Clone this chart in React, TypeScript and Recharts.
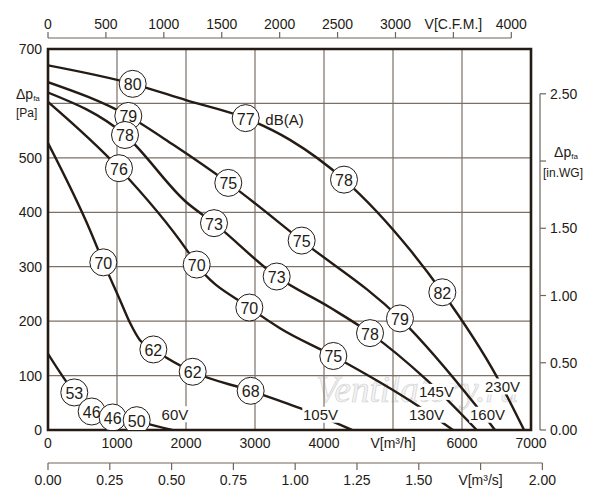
import {
  ComposedChart, Line, Scatter, XAxis, YAxis, CartesianGrid, ReferenceArea,
} from 'recharts';

// air flow V [m³/h] vs. static pressure Δp_fa [Pa], one curve per supply voltage
const curve230 = [
  { q: 0, p: 670 }, { q: 1227, p: 636 }, { q: 2000, p: 606 }, { q: 2865, p: 573 },
  { q: 3507, p: 533 }, { q: 4290, p: 460 }, { q: 5246, p: 331 }, { q: 5715, p: 253 },
  { q: 6503, p: 98 }, { q: 6900, p: 0 },
];
const curve160 = [
  { q: 0, p: 639 }, { q: 1164, p: 577 }, { q: 1816, p: 524 }, { q: 2613, p: 454 },
  { q: 3676, p: 348 }, { q: 5101, p: 205 }, { q: 6213, p: 43 }, { q: 6478, p: 0 },
];
const curve145 = [
  { q: 0, p: 620 }, { q: 1116, p: 542 }, { q: 2010, p: 418 }, { q: 2406, p: 380 },
  { q: 3314, p: 282 }, { q: 4087, p: 225 }, { q: 4667, p: 178 }, { q: 5488, p: 92 },
  { q: 6213, p: 0 },
];
const curve130 = [
  { q: 0, p: 603 }, { q: 1029, p: 481 }, { q: 2010, p: 331 }, { q: 2155, p: 304 },
  { q: 2918, p: 225 }, { q: 3362, p: 187 }, { q: 4135, p: 136 }, { q: 5343, p: 46 },
  { q: 5870, p: 0 },
];
const curve105 = [
  { q: 0, p: 527 }, { q: 609, p: 367 }, { q: 802, p: 308 }, { q: 1043, p: 239 },
  { q: 1188, p: 197 }, { q: 1333, p: 165 }, { q: 1527, p: 148 }, { q: 2097, p: 107 },
  { q: 2937, p: 72 }, { q: 3652, p: 40 }, { q: 4406, p: 0 },
];
const curve60 = [
  { q: 0, p: 140 }, { q: 381, p: 69 }, { q: 633, p: 34 }, { q: 937, p: 23 },
  { q: 1285, p: 18 }, { q: 1430, p: 12 }, { q: 1800, p: 0 },
];
const curves = [curve230, curve160, curve145, curve130, curve105, curve60];

// sound level dB(A) marked along the curves
const soundMarks = [
  { q: 1227, p: 636, db: 80 }, { q: 2865, p: 573, db: 77 }, { q: 4290, p: 460, db: 78 }, { q: 5715, p: 253, db: 82 },
  { q: 1164, p: 577, db: 79 }, { q: 2613, p: 454, db: 75 }, { q: 3676, p: 348, db: 75 }, { q: 5101, p: 205, db: 79 },
  { q: 1116, p: 542, db: 78 }, { q: 2406, p: 380, db: 73 }, { q: 3314, p: 282, db: 73 }, { q: 4667, p: 178, db: 78 },
  { q: 1029, p: 481, db: 76 }, { q: 2155, p: 304, db: 70 }, { q: 2918, p: 225, db: 70 }, { q: 4135, p: 136, db: 75 },
  { q: 802, p: 308, db: 70 }, { q: 1527, p: 148, db: 62 }, { q: 2097, p: 107, db: 62 }, { q: 2937, p: 72, db: 68 },
  { q: 381, p: 69, db: 53 }, { q: 633, p: 34, db: 46 }, { q: 937, p: 23, db: 46 }, { q: 1285, p: 18, db: 50 },
];

const voltageTags = [
  { q: 1840, p: 29, text: '60V' }, { q: 3949, p: 28, text: '105V' }, { q: 5486, p: 28, text: '130V' },
  { q: 5630, p: 70, text: '145V' }, { q: 6370, p: 28, text: '160V' }, { q: 6587, p: 80, text: '230V' },
];
const unitTags = [{ q: 3428, p: 571, text: 'dB(A)' }];

const flowTicks = [0, 1000, 2000, 3000, 4000, 5000, 6000, 7000];
const cfmTicks = [0, 500, 1000, 1500, 2000, 2500, 3000, 3500, 4000];
const m3sTicks = [0, 0.25, 0.5, 0.75, 1, 1.25, 1.5, 1.75, 2];
const paTicks = [0, 100, 200, 300, 400, 500, 600, 700];
const wgTicks = [0, 0.5, 1, 1.5, 2, 2.5];

const INK = '#241b15';
const AXIS = '#6f655d';
const GRID = '#7b7067';
const FONT = '"Liberation Sans", Arial, sans-serif';
const PLOT_LEFT = 48;
const PLOT_BOTTOM = 430;

function FlowTick({ x, y, payload }: any) {
  return (
    <text x={x} y={y + 13} textAnchor="middle" dominantBaseline="central" fontSize={14} fill={INK} fontFamily={FONT}>
      {payload.value === 5000 ? 'V[m³/h]' : payload.value}
    </text>
  );
}

function CfmTick({ x, y, payload, index }: any) {
  const ly = y - 11;
  const step = index > 0 ? (x - PLOT_LEFT) / index : 0;
  return (
    <g>
      <line x1={x} y1={ly} x2={x} y2={ly - 6} stroke={AXIS} strokeWidth={1.2} />
      {index > 0 && <line x1={x - step} y1={ly} x2={x} y2={ly} stroke={AXIS} strokeWidth={1.2} />}
      <text x={x} y={ly - 14} textAnchor="middle" dominantBaseline="central" fontSize={14} fill={INK} fontFamily={FONT}>
        {payload.value === 3500 ? 'V[C.F.M.]' : payload.value}
      </text>
    </g>
  );
}

function M3sTick({ x, y, payload, index }: any) {
  const ly = y + 11;
  const step = index > 0 ? (x - PLOT_LEFT) / index : 0;
  return (
    <g>
      <line x1={x} y1={ly} x2={x} y2={ly + 7} stroke={AXIS} strokeWidth={1.2} />
      {index > 0 && <line x1={x - step} y1={ly} x2={x} y2={ly} stroke={AXIS} strokeWidth={1.2} />}
      <text x={x} y={ly + 17} textAnchor="middle" dominantBaseline="central" fontSize={14} fill={INK} fontFamily={FONT}>
        {payload.value === 1.75 ? 'V[m³/s]' : payload.value.toFixed(2)}
      </text>
    </g>
  );
}

function PaTick({ x, y, payload }: any) {
  if (payload.value === 600) {
    return (
      <g fill={INK} fontFamily={FONT}>
        <text x={x - 32} y={y - 9} dominantBaseline="central" fontSize={14}>
          Δp<tspan fontSize={8} dy={4}>fa</tspan>
        </text>
        <text x={x - 32} y={y + 10} dominantBaseline="central" fontSize={12}>[Pa]</text>
      </g>
    );
  }
  return (
    <text x={x - 6} y={y} textAnchor="end" dominantBaseline="central" fontSize={14} fill={INK} fontFamily={FONT}>
      {payload.value}
    </text>
  );
}

function WgTick({ x, y, payload, index }: any) {
  const ax = x + 9;
  const step = index > 0 ? (PLOT_BOTTOM - y) / index : 0;
  return (
    <g fill={INK} fontFamily={FONT}>
      <line x1={ax} y1={y} x2={ax + 6} y2={y} stroke={AXIS} strokeWidth={1.2} />
      {index > 0 && <line x1={ax} y1={y} x2={ax} y2={y + step} stroke={AXIS} strokeWidth={1.2} />}
      {payload.value === 2 ? (
        <>
          <text x={ax + 26} y={y - 9} textAnchor="middle" dominantBaseline="central" fontSize={14}>
            Δp<tspan fontSize={8} dy={4}>fa</tspan>
          </text>
          <text x={ax + 23} y={y + 12} textAnchor="middle" dominantBaseline="central" fontSize={12}>[in.WG]</text>
        </>
      ) : (
        <text x={ax + 10} y={y} dominantBaseline="central" fontSize={14}>{payload.value.toFixed(2)}</text>
      )}
    </g>
  );
}

function SoundBubble({ cx, cy, payload }: any) {
  return (
    <g>
      <circle cx={cx} cy={cy} r={13.5} fill="#fff" stroke={INK} strokeWidth={1} />
      <text x={cx} y={cy + 1} textAnchor="middle" dominantBaseline="central" fontSize={16} fill={INK} fontFamily={FONT}>
        {payload.db}
      </text>
    </g>
  );
}

function Tag({ cx, cy, payload }: any) {
  const w = payload.text.length * 8.6 + 2;
  return (
    <g>
      <rect x={cx - w / 2} y={cy - 8} width={w} height={16} fill="#fff" />
      <text x={cx} y={cy} textAnchor="middle" dominantBaseline="central" fontSize={15} fill={INK} fontFamily={FONT}>
        {payload.text}
      </text>
    </g>
  );
}

function PlainTag({ cx, cy, payload }: any) {
  return (
    <text x={cx} y={cy} textAnchor="middle" dominantBaseline="central" fontSize={15} fill={INK} fontFamily={FONT}>
      {payload.text}
    </text>
  );
}

export default function App() {
  return (
    <div style={{ position: 'absolute', left: 0, top: 0, width: 600, height: 500, background: '#fff' }}>
      {/* faint site watermark, sits under the chart so the white label boxes cover it */}
      <div style={{
        position: 'absolute', left: 316, top: 368, fontFamily: '"Liberation Serif", serif', fontStyle: 'italic',
        fontSize: 37, color: '#f4f4f4', WebkitTextStroke: '0.7px #d2d2d2', pointerEvents: 'none',
        whiteSpace: 'nowrap',
      }}>
        Ventilatory.ru
      </div>
      <ComposedChart width={600} height={500} margin={{ top: 0, right: 0, bottom: 0, left: 0 }}
        style={{ position: 'absolute', left: 0, top: 0 }}>
        <XAxis xAxisId="h" dataKey="q" type="number" domain={[0, 7000]} allowDataOverflow ticks={flowTicks}
          interval={0} orientation="bottom" height={22} axisLine={false} tickLine={false} tickSize={0} tickMargin={0}
          tick={<FlowTick />} />
        <XAxis xAxisId="s" dataKey="q" type="number" domain={[0, 1.954]} allowDataOverflow ticks={m3sTicks}
          interval={0} orientation="bottom" height={48} axisLine={false} tickLine={false} tickSize={0} tickMargin={0}
          tick={<M3sTick />} />
        <XAxis xAxisId="cfm" dataKey="q" type="number" domain={[0, 4170]} allowDataOverflow ticks={cfmTicks}
          interval={0} orientation="top" height={49} axisLine={false} tickLine={false} tickSize={0} tickMargin={0}
          tick={<CfmTick />} />
        <YAxis yAxisId="pa" dataKey="p" type="number" domain={[0, 700]} allowDataOverflow ticks={paTicks}
          interval={0} orientation="left" width={48} axisLine={false} tickLine={false} tickSize={0} tickMargin={0}
          tick={<PaTick />} />
        <YAxis yAxisId="wg" type="number" domain={[0, 2.833]} allowDataOverflow ticks={wgTicks}
          interval={0} orientation="right" width={69} axisLine={false} tickLine={false} tickSize={0} tickMargin={0}
          tick={<WgTick />} />
        <CartesianGrid xAxisId="h" yAxisId="pa" stroke={GRID} strokeWidth={1.2} />
        {curves.map((c, i) => (
          <Line key={i} xAxisId="h" yAxisId="pa" data={c} dataKey="p" type="monotone" stroke={INK}
            strokeWidth={2.4} dot={false} activeDot={false} isAnimationActive={false} />
        ))}
        <Scatter xAxisId="h" yAxisId="pa" data={soundMarks} dataKey="p" shape={<SoundBubble />} isAnimationActive={false} />
        <Scatter xAxisId="h" yAxisId="pa" data={voltageTags} dataKey="p" shape={<Tag />} isAnimationActive={false} />
        <Scatter xAxisId="h" yAxisId="pa" data={unitTags} dataKey="p" shape={<PlainTag />} isAnimationActive={false} />
        <ReferenceArea xAxisId="h" yAxisId="pa" x1={0} x2={7000} y1={0} y2={700} fill="none"
          stroke={INK} strokeWidth={2.6} ifOverflow="visible" />
      </ComposedChart>
    </div>
  );
}
